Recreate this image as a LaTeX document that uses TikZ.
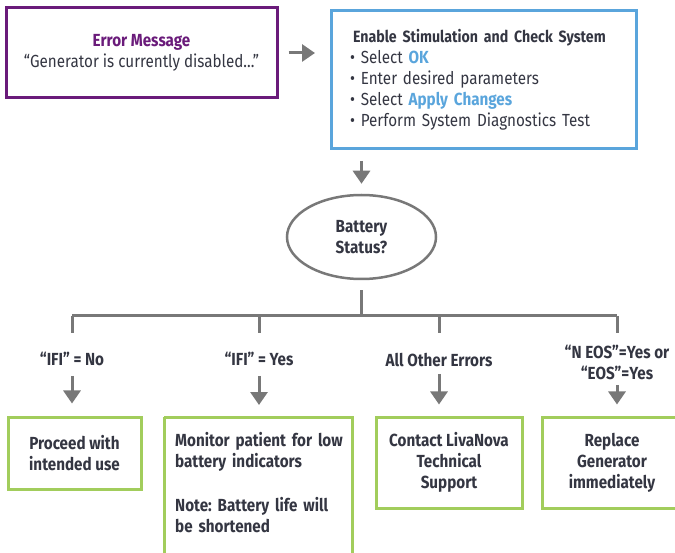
\documentclass[tikz,border=0pt]{standalone}
\usepackage{fontspec}
\setmainfont{Fira Sans}[FakeStretch=0.87]
\frenchspacing
\usetikzlibrary{shapes.geometric,arrows.meta}

\definecolor{errpurple}{RGB}{106,27,122}
\definecolor{stepblue}{RGB}{90,165,220}
\definecolor{okgreen}{RGB}{162,205,92}
\definecolor{flowgray}{RGB}{120,120,120}
\definecolor{textdark}{RGB}{52,54,66}

\tikzset{
  txt/.style={font=\fontsize{17.5}{21}\selectfont, text=textdark},
  boldtxt/.style={txt, font=\fontsize{17.5}{21}\selectfont\bfseries},
  errbox/.style={txt, draw=errpurple, line width=3pt, minimum width=271pt, minimum height=90pt, align=center},
  enablebox/.style={txt, draw=stepblue, line width=3pt, text width=268pt, inner xsep=18.5pt, minimum height=138pt, align=left},
  decision/.style={boldtxt, ellipse, draw=flowgray, line width=2.5pt, minimum width=149pt, minimum height=84pt, align=center},
  branch/.style={boldtxt, inner sep=0pt, align=center},
  outcome/.style={boldtxt, draw=okgreen, line width=3pt, align=center},
  line/.style={draw=flowgray, line width=3pt},
  flow/.style={line, -{Triangle[width=17pt,length=13pt]}},
}

\begin{document}
\begin{tikzpicture}[x=1pt, y=-1pt]
  \useasboundingbox (0,0) rectangle (675,553);
  \clip (0,0) rectangle (675,553);

  % top row
  \node[errbox] (err) at (141.5,53)
    {{\bfseries\color{errpurple}Error Message}\\“Generator is currently disabled...”};
  \node[enablebox, anchor=north west] (enable) at (330,9)
    {\hspace*{3pt}\mbox{\fontsize{16.3}{21}\selectfont\bfseries Enable Stimulation and Check System}\\
     • Select \textbf{\color{stepblue}OK}\\
     • Enter desired parameters\\
     • Select \textbf{\color{stepblue}Apply Changes}\\
     • Perform System Diagnostics Test};
  \draw[flow, shorten <=10pt, shorten >=15pt] (err.east) -- (err.east -| enable.west);

  % decision
  \node[decision] (stat) at (361.5,237) {Battery\\Status?};
  \draw[flow, shorten <=11pt, shorten >=10pt] (stat |- enable.south) -- (stat.north);

  % branch labels
  \node[branch] (lab1) at (72,359) {“IFI” = No};
  \node[branch] (lab2) at (259,359) {“IFI” = Yes};
  \node[branch] (lab3) at (439,360) {All Other Errors};
  \node[branch] (lab4) at (617,362.5) {“N EOS”=Yes or\\“EOS”=Yes};

  % split lines
  \coordinate (split) at (361.5,316);
  \draw[line] ([yshift=-10pt]stat.south) -- (split);
  \draw[line] (lab1 |- split) -- (lab4 |- split);
  \foreach \l in {lab1,lab2,lab3,lab4}
    \draw[line] (\l |- split) -- ++(0,17);

  % outcome boxes
  \node[outcome, minimum width=133pt, minimum height=72pt] (proceed) at (74.5,453) {Proceed with\\intended use};
  \node[boldtxt, anchor=north west, align=left, text width=180pt, inner xsep=11pt, inner ysep=15pt] (monitor) at (164,417)
    {Monitor patient for low\\battery indicators\\[23pt]Note: Battery life will\\be shortened};
  \draw[okgreen, line width=3pt] (monitor.north west) -- (monitor.north west -| 352,0) -- (352,590);
  \draw[okgreen, line width=3pt] (monitor.north west) -- (164,590);
  \node[outcome, minimum width=146pt, minimum height=91pt] (contact) at (449,462.5) {Contact LivaNova\\Technical\\Support};
  \node[outcome, minimum width=140pt, minimum height=91pt] (replace) at (612,462.5) {Replace\\Generator\\immediately};

  % arrows to outcomes
  \draw[flow, shorten >=12pt] (lab1) ++(0,17) -- (lab1 |- proceed.north);
  \draw[flow, shorten >=12pt] (lab2) ++(0,17) -- (lab2 |- monitor.north);
  \draw[flow, shorten >=11pt] (lab3) ++(0,14) -- (lab3 |- contact.north);
  \draw[flow, shorten >=11pt] (lab4) ++(0,22.5) -- (lab4 |- replace.north);
\end{tikzpicture}
\end{document}
